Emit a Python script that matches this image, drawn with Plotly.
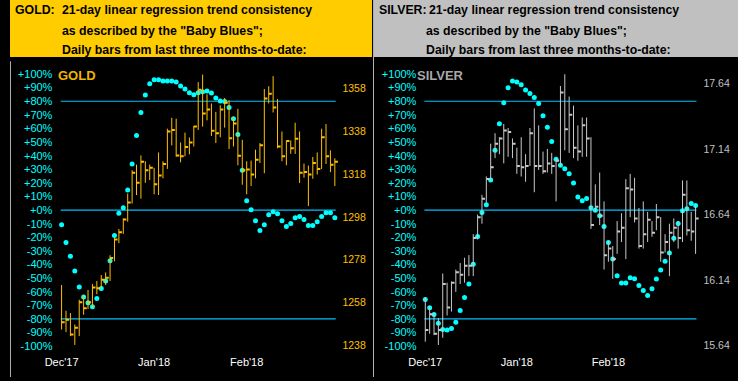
import plotly.graph_objects as go

W, H = 738, 381

# ---------------- data ----------------
gold_high = [1266.2, 1254.2, 1253.1, 1247.7, 1259.3, 1261.6, 1263.9, 1266.7, 1268.1, 1270.9,
             1272.1, 1280.1, 1288.3, 1292.4, 1297.4, 1309.0, 1319.9, 1322.5, 1326.8, 1324.1,
             1322.5, 1321.0, 1328.2, 1324.1, 1339.3, 1344.4, 1344.0, 1332.9, 1337.5, 1335.2,
             1340.6, 1361.1, 1364.6, 1355.4, 1351.1, 1347.2, 1350.3, 1353.7, 1352.6, 1344.9,
             1348.6, 1334.1, 1324.1, 1324.4, 1329.5, 1332.6, 1357.9, 1359.2, 1363.9, 1353.2,
             1338.0, 1333.8, 1333.8, 1342.1, 1338.0, 1323.0, 1322.1, 1326.1, 1328.2, 1339.3,
             1341.5, 1329.2, 1325.5]
gold_low = [1245.4, 1244.2, 1242.3, 1238.2, 1242.3, 1252.3, 1255.0, 1255.4, 1261.9, 1265.0,
            1266.2, 1268.1, 1277.3, 1285.8, 1290.1, 1295.8, 1304.3, 1308.3, 1306.6, 1314.0,
            1315.3, 1308.6, 1308.3, 1316.1, 1320.5, 1331.5, 1326.2, 1323.6, 1326.4, 1327.3,
            1331.0, 1338.7, 1340.3, 1343.2, 1335.9, 1332.6, 1335.3, 1339.8, 1329.8, 1331.0,
            1322.2, 1313.1, 1308.6, 1312.5, 1316.1, 1323.3, 1318.5, 1351.1, 1346.9, 1330.2,
            1324.1, 1322.2, 1327.6, 1327.5, 1313.9, 1316.4, 1303.2, 1315.9, 1317.9, 1320.5,
            1322.8, 1319.0, 1312.5]
gold_close = [1248.8, 1250.0, 1243.1, 1246.2, 1258.1, 1255.3, 1258.1, 1265.0, 1264.7, 1268.7,
              1269.6, 1278.9, 1287.5, 1290.9, 1296.9, 1304.8, 1318.7, 1314.0, 1323.8, 1319.9,
              1321.0, 1313.3, 1317.4, 1322.8, 1338.0, 1338.7, 1326.8, 1326.4, 1330.7, 1332.9,
              1340.3, 1357.5, 1346.4, 1348.3, 1338.3, 1337.2, 1348.3, 1351.5, 1334.9, 1341.8,
              1326.7, 1319.9, 1320.2, 1317.9, 1324.8, 1331.6, 1353.4, 1355.7, 1349.2, 1331.0,
              1326.4, 1333.6, 1330.2, 1334.6, 1318.7, 1319.1, 1317.9, 1323.3, 1320.5, 1335.3,
              1326.4, 1322.5, 1323.8]
gold_blues = [-10.7, -23.8, -33.9, -44.8, -56.5, -63.8, -68.1, -71.0, -65.0, -57.7,
              -52.1, -37.3, -18.7, -2.4, 1.7, 14.8, 33.9, 54.8, 71.8, 84.6,
              92.8, 95.8, 95.8, 94.8, 94.8, 94.8, 94.1, 91.2, 89.0, 86.3,
              84.8, 86.3, 87.0, 87.5, 86.1, 82.4, 80.2, 79.8, 75.4, 67.2,
              55.5, 29.3, 6.8, 0.2, -7.8, -15.0, -10.7, -3.4, -1.2, -2.7,
              -7.8, -12.1, -9.9, -5.6, -4.8, -7.0, -11.4, -11.4, -8.5, -4.8,
              -1.9, -1.9, -5.6]

silver_high = [16.01, 15.94, 15.89, 15.85, 16.19, 16.12, 16.13, 16.22, 16.27, 16.31,
               16.33, 16.49, 16.64, 16.79, 16.93, 17.18, 17.26, 17.23, 17.33, 17.30,
               17.22, 17.15, 17.23, 17.10, 17.30, 17.45, 17.32, 17.12, 17.14, 17.11,
               17.07, 17.62, 17.71, 17.54, 17.47, 17.32, 17.38, 17.38, 17.23, 16.87,
               16.96, 16.74, 16.44, 16.40, 16.59, 16.65, 16.91, 16.95, 16.92, 16.69,
               16.74, 16.66, 16.59, 16.72, 16.62, 16.49, 16.57, 16.61, 16.59, 16.90,
               16.90, 16.66, 16.71]
silver_low = [15.67, 15.73, 15.72, 15.645, 15.70, 15.87, 15.90, 16.05, 16.11, 16.12,
              16.17, 16.17, 16.45, 16.57, 16.73, 16.90, 17.07, 17.10, 17.03, 17.08,
              17.07, 16.95, 16.93, 16.89, 17.01, 16.81, 16.98, 16.95, 16.96, 16.95,
              16.74, 17.01, 17.13, 17.11, 17.07, 17.05, 17.08, 17.08, 16.53, 16.66,
              16.56, 16.22, 16.28, 16.15, 16.34, 16.43, 16.30, 16.62, 16.58, 16.38,
              16.38, 16.43, 16.47, 16.52, 16.28, 16.35, 16.17, 16.43, 16.38, 16.43,
              16.48, 16.44, 16.34]
silver_close = [15.76, 15.88, 15.73, 15.76, 16.11, 15.93, 16.12, 16.20, 16.18, 16.25,
                16.25, 16.46, 16.62, 16.76, 16.91, 17.00, 17.18, 17.22, 17.28, 17.27,
                17.18, 17.01, 17.00, 17.01, 17.26, 17.01, 17.01, 16.97, 17.03, 17.01,
                17.05, 17.57, 17.29, 17.40, 17.15, 17.12, 17.32, 17.22, 16.56, 16.70,
                16.63, 16.33, 16.38, 16.30, 16.51, 16.54, 16.84, 16.83, 16.61, 16.40,
                16.49, 16.60, 16.50, 16.62, 16.35, 16.43, 16.50, 16.54, 16.46, 16.79,
                16.52, 16.51, 16.61]
silver_blues = [-65.7, -71.8, -76.8, -83.2, -87.8, -88.2, -87.0, -82.4, -73.9, -64.2,
                -54.3, -39.8, -19.4, -1.7, 3.9, 22.1, 43.9, 63.5, 78.8, 89.9,
                94.8, 94.1, 92.1, 88.2, 85.6, 82.7, 78.3, 69.3, 60.8, 50.4,
                37.3, 33.0, 30.3, 26.7, 19.9, 9.7, 6.8, 8.5, 1.7, -0.2,
                -4.1, -12.1, -23.8, -35.9, -48.2, -53.6, -53.6, -49.7, -50.4, -55.5,
                -59.2, -62.8, -57.9, -50.7, -44.1, -37.6, -31.5, -20.8, -9.9, -0.5,
                1.0, 4.8, 3.4]

pct_ticks = [100, 90, 80, 70, 60, 50, 40, 30, 20, 10, 0,
             -10, -20, -30, -40, -50, -60, -70, -80, -90, -100]
pct_labels = ["+100%", "+90%", "+80%", "+70%", "+60%", "+50%", "+40%", "+30%", "+20%", "+10%", "+0%",
              "-10%", "-20%", "-30%", "-40%", "-50%", "-60%", "-70%", "-80%", "-90%", "-100%"]
gold_price_ticks = [1238, 1258, 1278, 1298, 1318, 1338, 1358]
silver_price_ticks = [15.64, 16.14, 16.64, 17.14, 17.64]
silver_price_labels = ["15.64", "16.14", "16.64", "17.14", "17.64"]
month_pos = [0, 21, 42]
month_labels = ["Dec'17", "Jan'18", "Feb'18"]
ref_levels = [80, 0, -80]

header_lines = ["21-day linear regression trend consistency",
                "as described by the \"Baby Blues\";",
                "Daily bars from last three months-to-date:"]

# ---------------- styles ----------------
FONT = "Liberation Sans, Arial, sans-serif"
GOLD_BAR = "#FFC000"
GOLD_HDR = "#FFCC00"
SILVER_BAR = "#C8C8C8"
SILVER_HDR = "#C0C0C0"
CYAN = "#00FFFF"
LINE_BLUE = "#00BFFF"
TICK_W = 0.7


def fx(p):
    return p / W


def fy(p):
    return 1 - p / H


fig = go.Figure()


def add_panel(xa, ya_pct, ya_px, high, low, close, blues, color):
    n = len(close)
    vx, vy, tx, ty = [], [], [], []
    for i in range(n):
        vx += [i, i, None]
        vy += [low[i], high[i], None]
        tx += [i, i + TICK_W, None]
        ty += [close[i], close[i], None]
    fig.add_trace(go.Scatter(x=vx, y=vy, mode="lines", line=dict(color=color, width=1),
                             xaxis=xa, yaxis=ya_px, hoverinfo="skip"))
    fig.add_trace(go.Scatter(x=tx, y=ty, mode="lines", line=dict(color=color, width=2),
                             xaxis=xa, yaxis=ya_px, hoverinfo="skip"))
    for lv in ref_levels:
        fig.add_trace(go.Scatter(x=[-0.2, n - 0.8], y=[lv, lv], mode="lines",
                                 line=dict(color=LINE_BLUE, width=1.2),
                                 xaxis=xa, yaxis=ya_pct, hoverinfo="skip"))
    fig.add_trace(go.Scatter(x=list(range(n)), y=blues, mode="markers",
                             marker=dict(color=CYAN, size=5, symbol="circle", line=dict(width=0)),
                             xaxis=xa, yaxis=ya_pct, hoverinfo="skip", cliponaxis=False))


add_panel("x", "y", "y3", gold_high, gold_low, gold_close, gold_blues, GOLD_BAR)
add_panel("x2", "y2", "y4", silver_high, silver_low, silver_close, silver_blues, SILVER_BAR)

ydom = [fy(352), fy(66)]
pct_range = [-101.6, 106.4]

common_x = dict(showgrid=False, zeroline=False, showline=False, ticks="",
                tickvals=month_pos, ticktext=month_labels, ticklabelstandoff=6,
                tickfont=dict(family=FONT, size=11, color="white"))
common_pct = dict(domain=ydom, range=pct_range, showgrid=False, zeroline=False, showline=False,
                  ticks="", tickvals=pct_ticks, ticktext=pct_labels, side="left", anchor="free",
                  tickfont=dict(family=FONT, size=11, color=CYAN))
common_px = dict(showgrid=False, zeroline=False, showline=False, ticks="", side="right", anchor="free")

fig.update_layout(
    width=W, height=H, margin=dict(l=0, r=0, t=0, b=0),
    paper_bgcolor="black", plot_bgcolor="black", showlegend=False,
    xaxis=dict(domain=[fx(45), fx(336)], range=[-1.634, 63.5], anchor="y", **common_x),
    xaxis2=dict(domain=[fx(413), fx(703)], range=[-1.81, 63.81], anchor="y2", **common_x),
    yaxis=dict(position=fx(43), **common_pct),
    yaxis2=dict(position=fx(412), **common_pct),
    yaxis3=dict(overlaying="y", position=fx(336), range=[1236.61, 1368.96],
                tickvals=gold_price_ticks, ticktext=[str(v) for v in gold_price_ticks],
                tickfont=dict(family=FONT, size=10.5, color=GOLD_BAR), **common_px),
    yaxis4=dict(overlaying="y2", position=fx(702), range=[15.6196, 17.778],
                tickvals=silver_price_ticks, ticktext=silver_price_labels,
                tickfont=dict(family=FONT, size=10.5, color=SILVER_HDR), **common_px),
)

shapes = [
    dict(type="rect", xref="paper", yref="paper", x0=0, x1=fx(367), y0=fy(57.5), y1=1,
         fillcolor=GOLD_HDR, line=dict(width=0), layer="below"),
    dict(type="rect", xref="paper", yref="paper", x0=fx(369), x1=1, y0=fy(57.5), y1=1,
         fillcolor=SILVER_HDR, line=dict(width=0), layer="below"),
    dict(type="line", xref="paper", yref="paper", x0=fx(0.5), x1=fx(0.5), y0=0, y1=fy(62),
         line=dict(color="#B0B0B0", width=1)),
    dict(type="line", xref="paper", yref="paper", x0=fx(368.5), x1=fx(368.5), y0=0, y1=1,
         line=dict(color="#B0B0B0", width=1)),
]
fig.update_layout(shapes=shapes)

ann = []
hdr_font = dict(family=FONT, size=12.3, color="black", weight="bold")
line_y = [10, 31, 51]
ann.append(dict(text="GOLD:", x=fx(3), y=fy(line_y[0])))
ann.append(dict(text="SILVER:", x=fx(372), y=fy(line_y[0])))
for k, t in enumerate(header_lines):
    ann.append(dict(text=t, x=fx(50.5), y=fy(line_y[k])))
    ann.append(dict(text=t, x=fx(423 if k == 0 else 419.5), y=fy(line_y[k])))
for a in ann:
    a.update(xref="paper", yref="paper", xanchor="left", yanchor="middle", showarrow=False,
             font=hdr_font)
ann.append(dict(text="GOLD", x=fx(47), y=fy(76), xref="paper", yref="paper", xanchor="left",
                yanchor="middle", showarrow=False,
                font=dict(family=FONT, size=13, color="#F0B400", weight="bold")))
ann.append(dict(text="SILVER", x=fx(410.5), y=fy(76), xref="paper", yref="paper", xanchor="left",
                yanchor="middle", showarrow=False,
                font=dict(family=FONT, size=13, color="#A8A8A8", weight="bold")))
fig.update_layout(annotations=ann)

fig.write_html("out.html", config={"displayModeBar": False},
               post_script="document.body.style.margin='0';document.body.style.padding='0';")
